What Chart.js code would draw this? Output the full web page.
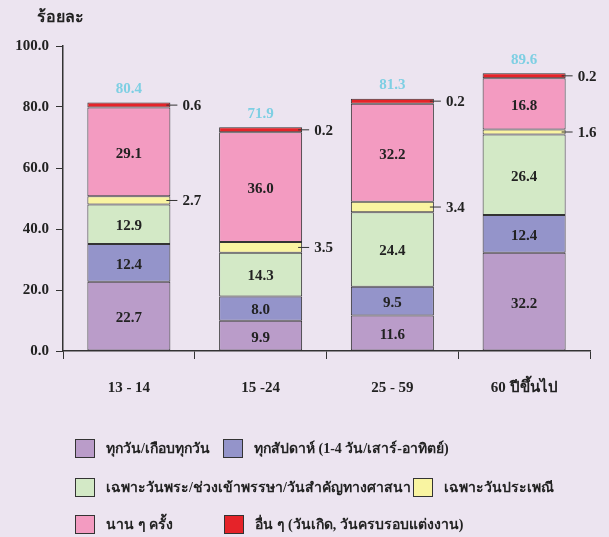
<!DOCTYPE html>
<html>
<head>
<meta charset="utf-8">
<script src="https://cdn.jsdelivr.net/npm/chart.js@4/dist/chart.umd.min.js"></script>
<style>
  body { margin: 0; background: #ece4f0; }
  #wrap { position: relative; width: 609px; height: 537px; }
  #legend .item { position: absolute; display: flex; align-items: center; font: bold 14px "Liberation Serif", serif; color: #222; white-space: nowrap; }
  #legend .box { width: 18px; height: 17px; border: 1.5px solid #333; margin-right: 11px; }
</style>
</head>
<body>
<div id="wrap">
  <canvas id="chart" width="609" height="537"></canvas>
  <div id="legend"></div>
</div>
<script>
// ข้อมูล
const ageGroups = ["13 - 14", "15 -24", "25 - 59", "60 ปีขึ้นไป"];
const seriesNames = [
  "ทุกวัน/เกือบทุกวัน",
  "ทุกสัปดาห์ (1-4 วัน/เสาร์-อาทิตย์)",
  "เฉพาะวันพระ/ช่วงเข้าพรรษา/วันสำคัญทางศาสนา",
  "เฉพาะวันประเพณี",
  "นาน ๆ ครั้ง",
  "อื่น ๆ (วันเกิด, วันครบรอบแต่งงาน)",
];
const daily = [22.7, 9.9, 11.6, 32.2];
const weekly = [12.4, 8.0, 9.5, 12.4];
const holyDays = [12.9, 14.3, 24.4, 26.4];
const festivals = [2.7, 3.5, 3.4, 1.6];
const rarely = [29.1, 36.0, 32.2, 16.8];
const others = [0.6, 0.2, 0.2, 0.2];
const totals = [80.4, 71.9, 81.3, 89.6];
const yTicks = [0, 20, 40, 60, 80, 100];

const colors = ["#ba9cc9", "#9494ca", "#d3e9c6", "#f9f4a1", "#f39bc1", "#e52329"];
const values = [daily, weekly, holyDays, festivals, rarely, others];
const sideLabel = [false, false, false, true, false, true]; // ค่าที่แสดงด้านข้างแท่ง

const numFont = '"Liberation Serif", serif';

// ป้ายค่าบนแท่ง
const labelPlugin = {
  id: "labels",
  afterDatasetsDraw(chart) {
    const ctx = chart.ctx;
    ctx.save();
    ctx.font = "bold 15px " + numFont;
    chart.data.datasets.forEach((ds, i) => {
      const meta = chart.getDatasetMeta(i);
      meta.data.forEach((bar, j) => {
        const v = ds.data[j].toFixed(1);
        const cy = (bar.y + bar.base) / 2;
        ctx.fillStyle = "#222";
        if (sideLabel[i]) {
          const right = bar.x + bar.width / 2;
          ctx.strokeStyle = "#333";
          ctx.lineWidth = 1;
          ctx.beginPath();
          ctx.moveTo(right - 4, cy);
          ctx.lineTo(right + 7, cy);
          ctx.stroke();
          ctx.textAlign = "left";
          ctx.textBaseline = "middle";
          ctx.fillText(v, right + 12, cy + 1);
        } else {
          ctx.textAlign = "center";
          ctx.textBaseline = "middle";
          ctx.fillText(v, bar.x, cy + 2);
        }
      });
    });
    // ผลรวม
    const topMeta = chart.getDatasetMeta(chart.data.datasets.length - 1);
    ctx.fillStyle = "#7ecfe3";
    ctx.textAlign = "center";
    ctx.textBaseline = "bottom";
    topMeta.data.forEach((bar, j) => {
      ctx.fillText(totals[j].toFixed(1), bar.x, bar.y - 6);
    });
    // ชื่อแกน
    ctx.fillStyle = "#222";
    ctx.font = "bold 16px " + numFont;
    ctx.textAlign = "left";
    ctx.textBaseline = "middle";
    ctx.fillText("ร้อยละ", 37, 18);
    ctx.restore();
  },
};

new Chart(document.getElementById("chart"), {
  type: "bar",
  data: {
    labels: ageGroups,
    datasets: values.map((d, i) => ({
      label: seriesNames[i],
      data: d,
      backgroundColor: colors[i],
      borderColor: "#333",
      borderWidth: 1,
      borderSkipped: false,
      categoryPercentage: 1,
      barPercentage: 0.63,
      minBarLength: i === 5 ? 5 : 0,
    })),
  },
  options: {
    responsive: false,
    animation: false,
    layout: { padding: { left: 13, right: 19, top: 46, bottom: 136 } },
    plugins: { legend: { display: false }, tooltip: { enabled: false } },
    scales: {
      x: {
        stacked: true,
        afterFit: (s) => { s.height = 50; },
        grid: { display: true, drawOnChartArea: false, offset: true, color: "#333", tickLength: 8 },
        border: { color: "#333", width: 1.5 },
        ticks: { color: "#222", font: { family: numFont, size: 15, weight: "bold" }, padding: 20 },
      },
      y: {
        stacked: true,
        min: 0,
        max: 100,
        afterFit: (s) => { s.width = 50; },
        afterBuildTicks: (s) => { s.ticks = yTicks.map((v) => ({ value: v })); },
        grid: { display: true, drawOnChartArea: false, color: "#333", tickLength: 7 },
        border: { color: "#333", width: 1.5 },
        ticks: {
          color: "#222",
          font: { family: numFont, size: 15, weight: "bold" },
          padding: 7,
          callback: (v) => v.toFixed(1),
        },
      },
    },
  },
  plugins: [labelPlugin],
});

// คำอธิบายสัญลักษณ์
const legendPos = [[75, 437], [223, 437], [75, 476], [413, 476], [75, 513], [224, 513]];
const legend = document.getElementById("legend");
seriesNames.forEach((name, i) => {
  const item = document.createElement("div");
  item.className = "item";
  item.style.left = legendPos[i][0] + "px";
  item.style.top = legendPos[i][1] + "px";
  const box = document.createElement("span");
  box.className = "box";
  box.style.background = colors[i];
  item.appendChild(box);
  item.appendChild(document.createTextNode(name));
  legend.appendChild(item);
});
</script>
</body>
</html>
